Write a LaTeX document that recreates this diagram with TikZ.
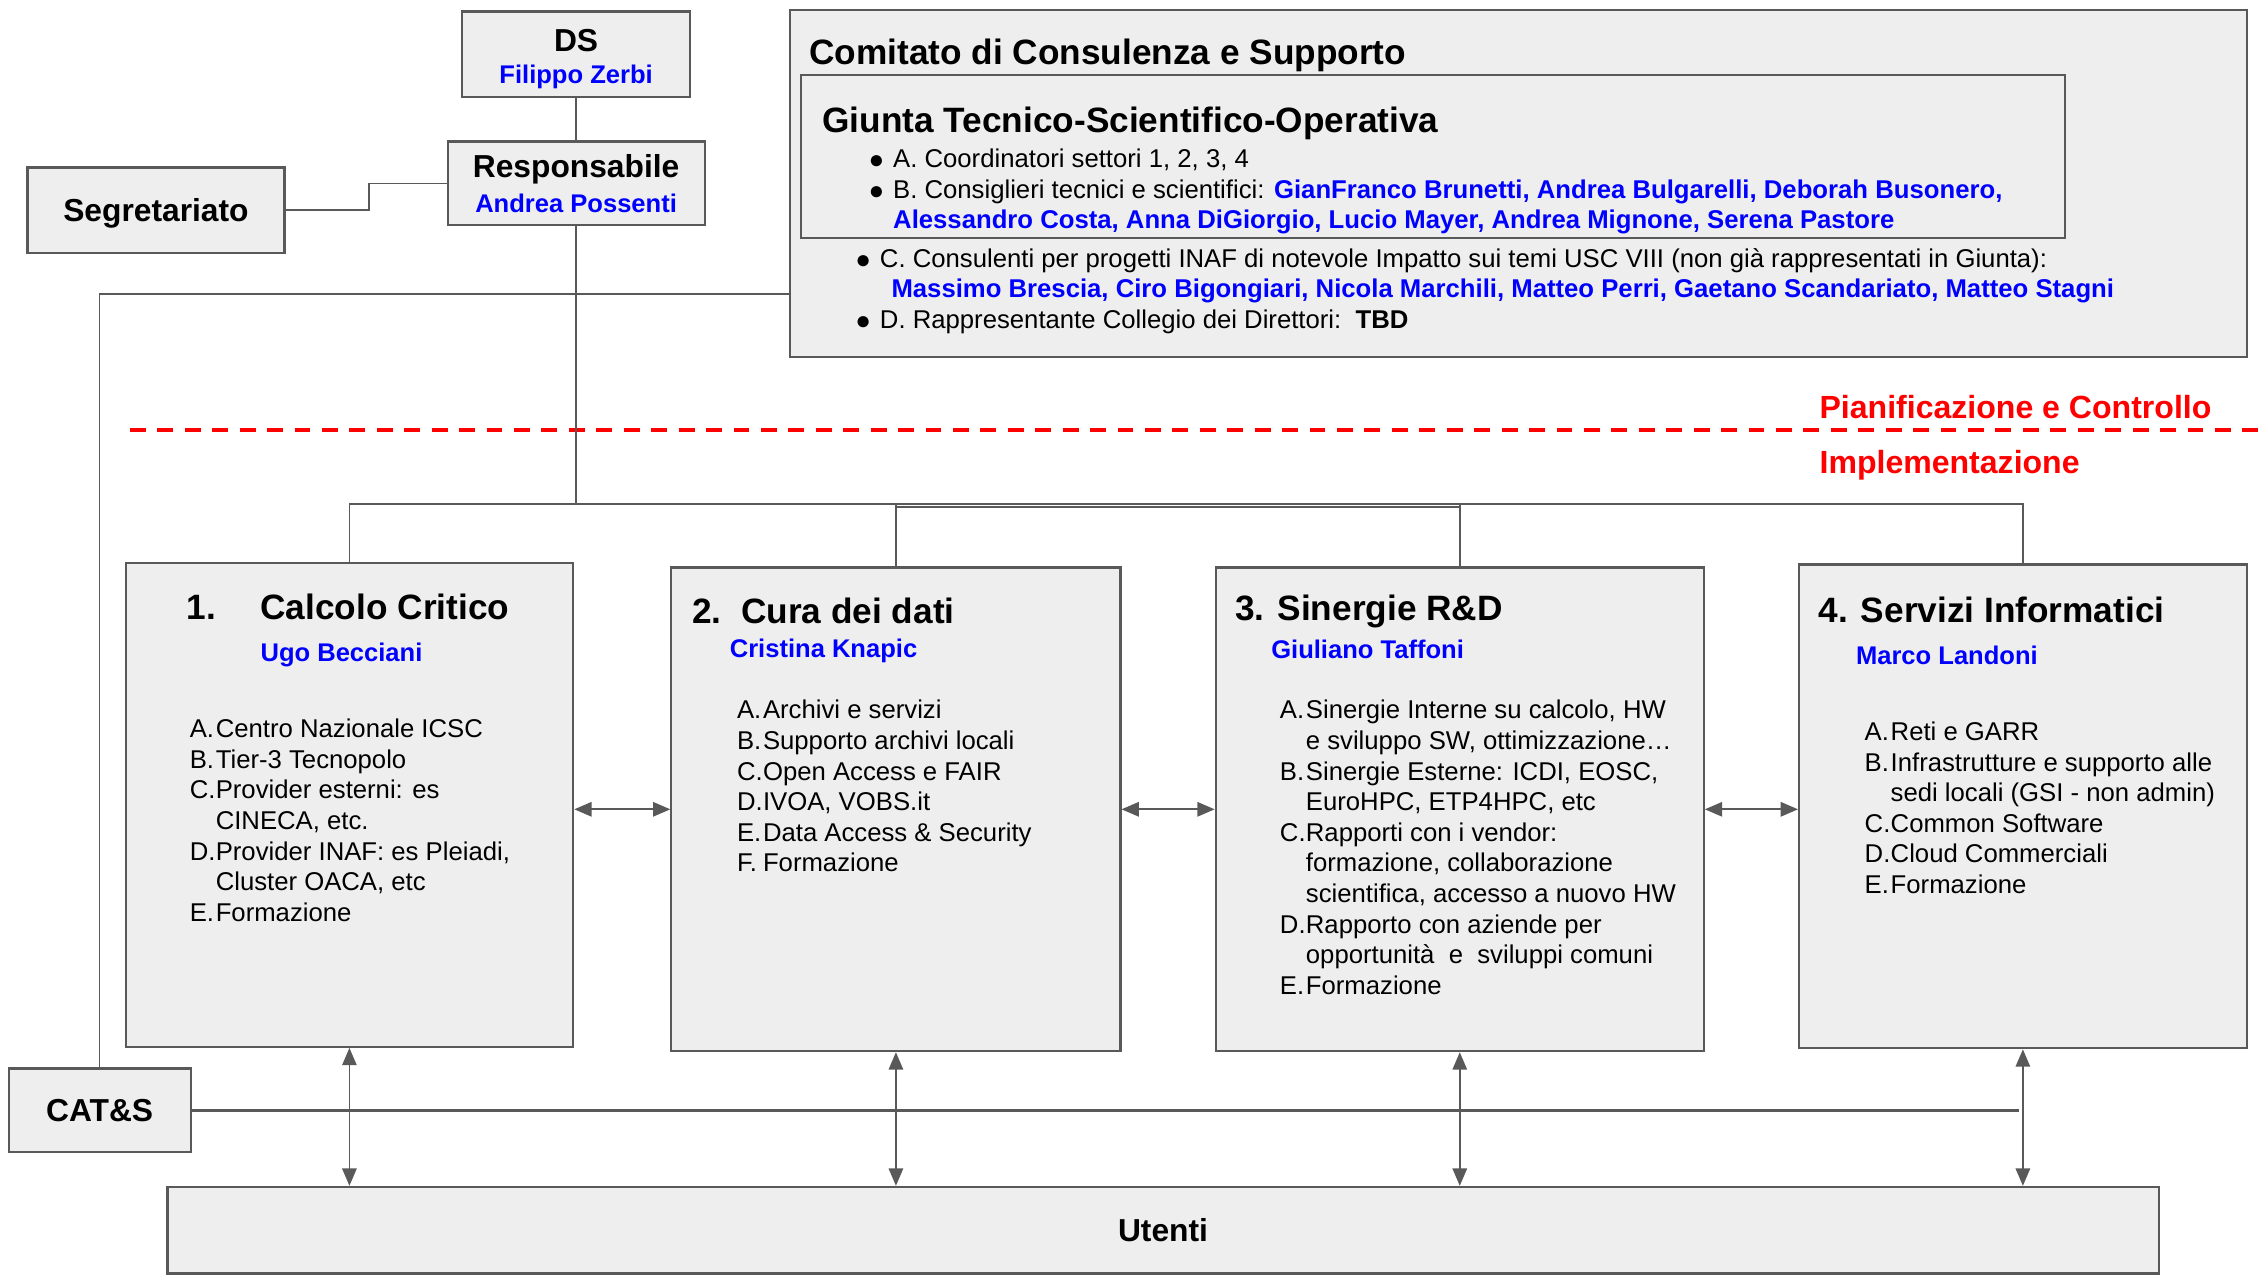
\documentclass[tikz,border=0pt]{standalone}
\usepackage{fontspec}
\setmainfont{Liberation Sans}
\usetikzlibrary{calc, arrows.meta}

\definecolor{boxgray}{HTML}{EEEEEE}
\definecolor{linegray}{HTML}{595959}
\definecolor{nameblue}{HTML}{0000FF}
\definecolor{planred}{HTML}{FF0000}

\newcommand{\who}[1]{{\color{nameblue}\bfseries #1}}
\newcommand{\lt}[1]{\makebox[18pt][l]{#1}}
\newcommand{\bul}{\makebox[13pt][l]{\hspace*{-4pt}\raisebox{-1pt}{\fontsize{18}{20}\selectfont ●}}}

\begin{document}
\begin{tikzpicture}[x=1pt, y=-1pt,
  box/.style={draw=linegray, fill=boxgray, line width=1.5pt, inner sep=0pt},
  head/.style={text depth=0pt, font=\bfseries\fontsize{22}{24}\selectfont},
  boxtitle/.style={anchor=west, inner sep=0pt, font=\bfseries\fontsize{24.4}{28}\selectfont},
  person/.style={anchor=west, inner sep=0pt, text=nameblue, font=\bfseries\fontsize{17.7}{21}\selectfont},
  items/.style={anchor=north west, align=left, inner sep=0pt, font=\fontsize{17.8}{21.2}\selectfont},
  plan/.style={anchor=west, inner sep=0pt, text=planred, font=\bfseries\fontsize{22.2}{24}\selectfont},
  link/.style={draw=linegray, line width=1.2pt},
  both/.style={link, {Triangle[length=12pt, width=10pt]}-{Triangle[length=12pt, width=10pt]}}
]
  \useasboundingbox (0, 0) rectangle (1568, 886.5);

% direzione
  \draw (399, 37.5) node[box, minimum width=158, minimum height=59, align=center, font=\bfseries\fontsize{17.7}{24}\selectfont] (ds)
    {\rule{0pt}{22pt}{\fontsize{22}{24}\selectfont DS}\\[-2pt] \who{Filippo Zerbi}};
  \draw ($(ds) + (0, 89.5)$) node[box, minimum width=178, minimum height=58, align=center, font=\bfseries\fontsize{17.7}{24}\selectfont] (resp)
    {{\fontsize{22}{24}\selectfont Responsabile}\\ \who{Andrea Possenti}};
  \draw (108, 145.5) node[box, minimum width=178, minimum height=59, head] (segr) {Segretariato};

  \draw[link] (ds.south) -- (resp.north);
  \draw[link] (segr.east) -- ++(58, 0) |- (resp.west);

% comitato
  \draw (1051.5, 127) node[box, minimum width=1009, minimum height=240] (comit) {};
  \draw ($(comit.north west) + (14, 32)$) node[boxtitle] {Comitato di Consulenza e Supporto};
  \draw (992.5, 108.5) node[box, line width=1.2pt, minimum width=875, minimum height=113] (giunta) {};
  \draw ($(giunta.north west) + (15, 34)$) node[boxtitle] {Giunta Tecnico-Scientifico-Operativa};
  \draw ($(giunta.north west) + (51, 51.5)$) node[items] {%
    \bul A. Coordinatori settori 1, 2, 3, 4\\
    \bul B. Consiglieri tecnici e scientifici: \who{GianFranco Brunetti, Andrea Bulgarelli, Deborah Busonero,}\\
    \hspace*{13pt}\who{Alessandro Costa, Anna DiGiorgio, Lucio Mayer, Andrea Mignone, Serena Pastore}};
  \draw ($(comit.north west) + (50, 165.5)$) node[items] {%
    \bul C. Consulenti per progetti INAF di notevole Impatto sui temi USC VIII (non già rappresentati in Giunta):\\
    \hspace*{21pt}\who{Massimo Brescia, Ciro Bigongiari, Nicola Marchili, Matteo Perri, Gaetano Scandariato, Matteo Stagni}\\
    \bul D. Rappresentante Collegio dei Direttori:\ \ \textbf{TBD}};

% livelli
  \draw[planred, line width=2.5pt, dash pattern=on 11pt off 8pt] (90, 298) -- (1568, 298);
  \draw (1260, 282) node[plan] {Pianificazione e Controllo};
  \draw (1260, 322.5) node[plan] {Implementazione};

% settori
  \draw (242, 557.5) node[box, minimum width=310, minimum height=335] (c1) {};
  \draw (620.5, 560.5) node[box, minimum width=311, minimum height=335] (c2) {};
  \draw (1011, 560.5) node[box, minimum width=338, minimum height=335] (c3) {};
  \draw (1401, 558.5) node[box, minimum width=310, minimum height=335] (c4) {};

  \draw ($(c1.north west) + (43, 31)$) node[boxtitle] {\makebox[51pt][l]{1.}Calcolo Critico};
  \draw ($(c1.north west) + (94, 64)$) node[person] {Ugo Becciani};
  \draw ($(c1.north west) + (45, 108.5)$) node[items] {%
    \lt{A.}Centro Nazionale ICSC\\
    \lt{B.}Tier-3 Tecnopolo\\
    \lt{C.}Provider esterni: es\\
    \lt{}CINECA, etc.\\
    \lt{D.}Provider INAF: es Pleiadi,\\
    \lt{}Cluster OACA, etc\\
    \lt{E.}Formazione};

  \draw ($(c2.north west) + (15, 31)$) node[boxtitle] {2.\ \ Cura dei dati};
  \draw ($(c2.north west) + (41, 58.5)$) node[person] {Cristina Knapic};
  \draw ($(c2.north west) + (46, 92.5)$) node[items] {%
    \lt{A.}Archivi e servizi\\
    \lt{B.}Supporto archivi locali\\
    \lt{C.}Open Access e FAIR\\
    \lt{D.}IVOA, VOBS.it\\
    \lt{E.}Data Access \& Security\\
    \lt{F.}Formazione};

  \draw ($(c3.north west) + (14, 31)$) node[boxtitle] {3. Sinergie R\&D};
  \draw ($(c3.north west) + (39, 57.5)$) node[person] {Giuliano Taffoni};
  \draw ($(c3.north west) + (45, 92.5)$) node[items] {%
    \lt{A.}Sinergie Interne su calcolo, HW\\
    \lt{}e sviluppo SW, ottimizzazione\ldots\\
    \lt{B.}Sinergie Esterne: ICDI, EOSC,\\
    \lt{}EuroHPC, ETP4HPC, etc\\
    \lt{C.}Rapporti con i vendor:\\
    \lt{}formazione, collaborazione\\
    \lt{}scientifica, accesso a nuovo HW\\
    \lt{D.}Rapporto con aziende per\\
    \lt{}opportunità\ \ e\ \ sviluppi comuni\\
    \lt{E.}Formazione};

  \draw ($(c4.north west) + (14, 32)$) node[boxtitle] {4. Servizi Informatici};
  \draw ($(c4.north west) + (40, 63.5)$) node[person] {Marco Landoni};
  \draw ($(c4.north west) + (46, 109.5)$) node[items] {%
    \lt{A.}Reti e GARR\\
    \lt{B.}Infrastrutture e supporto alle\\
    \lt{}sedi locali (GSI - non admin)\\
    \lt{C.}Common Software\\
    \lt{D.}Cloud Commerciali\\
    \lt{E.}Formazione};

% albero
  \coordinate (bus) at (399, 349);
  \draw[link] (resp.south) -- (bus);
  \draw[link] (c1.north) |- (bus) -| (c4.north);
  \foreach \i in {2, 3}{
    \draw[link] (c\i.north) -- (c\i.north |- bus);
  }
  \draw[link] ($(c2.north |- bus) + (0, 2)$) -- ($(c3.north |- bus) + (0, 2)$);

  \draw[both] (c1.east |- c2.west) -- (c2.west);
  \draw[both] (c2.east) -- (c3.west);
  \draw[both] (c3.east) -- (c4.west |- c3.east);

% utenti
  \draw (69, 769) node[box, minimum width=126, minimum height=58, head] (cats) {CAT\&S};
  \draw (805.5, 852) node[box, minimum width=1379, minimum height=60, head] (ut) {Utenti};
  \coordinate (cin) at ($(comit.south west) + (0, -44)$);
  \draw[link] (cats.north) |- (cin);
  \coordinate (catsend) at ($(c4.south) + (-3, 0)$);
  \draw[link, line width=2pt] (cats.east) -- (catsend |- cats.east);
  \foreach \i in {1, ..., 4}{
    \draw[both, line width=1pt] (c\i.south) -- (c\i.south |- ut.north);
  }
\end{tikzpicture}
\end{document}
